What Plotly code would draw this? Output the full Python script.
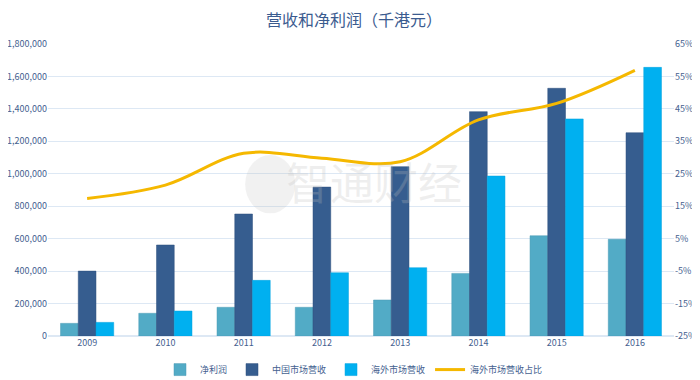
import plotly.graph_objects as go

years = ["2009", "2010", "2011", "2012", "2013", "2014", "2015", "2016"]
net_profit = [78000, 140000, 177000, 177000, 222000, 386000, 618000, 596000]
china_rev = [400000, 561000, 752000, 918000, 1044000, 1383000, 1527000, 1253000]
overseas_rev = [84000, 154000, 343000, 390000, 421000, 986000, 1338000, 1656000]
overseas_share = [17.4, 21.5, 31.3, 29.8, 28.7, 41.6, 46.7, 56.9]

left_ticks = [0, 200000, 400000, 600000, 800000, 1000000, 1200000, 1400000, 1600000, 1800000]
right_ticks = [-25, -15, -5, 5, 15, 25, 35, 45, 55, 65]
right_labels = [f"{v}%" for v in right_ticks]

font_family = "Noto Sans CJK SC, Noto Sans, sans-serif"
tick_color = "#44618f"

fig = go.Figure()
fig.add_trace(go.Bar(x=years, y=net_profit, name="净利润",
                     marker=dict(color="#52abc6", line=dict(color="#4a9ab5", width=0.5))))
fig.add_trace(go.Bar(x=years, y=china_rev, name="中国市场营收",
                     marker=dict(color="#365d8f", line=dict(color="#2c4f7c", width=0.5))))
fig.add_trace(go.Bar(x=years, y=overseas_rev, name="海外市场营收",
                     marker=dict(color="#00b0f0", line=dict(color="#00a2de", width=0.5))))
fig.add_trace(go.Scatter(x=years, y=overseas_share, name="海外市场营收占比", yaxis="y2",
                         mode="lines", line=dict(color="#f5b800", width=3, shape="spline", smoothing=1.0)))

fig.add_annotation(text="智通财经", xref="paper", yref="paper", x=0.52, y=0.53,
                   showarrow=False, font=dict(size=44, color="rgba(190,190,190,0.25)", family=font_family))
fig.add_shape(type="circle", xref="paper", yref="paper", x0=0.315, x1=0.395, y0=0.42, y1=0.62,
              line=dict(width=0), fillcolor="rgba(190,190,190,0.22)", layer="above")

fig.update_layout(
    width=692, height=372,
    margin=dict(l=40, r=26, t=36, b=44, autoexpand=False),
    paper_bgcolor="white", plot_bgcolor="white",
    font=dict(family=font_family, color=tick_color, size=9),
    title=dict(text="营收和净利润（千港元）", x=0.5, xanchor="center", y=0.968, yanchor="middle",
               yref="container", font=dict(size=16, color="#3b5b8f", family=font_family)),
    barmode="group", bargap=0.32, bargroupgap=0,
    showlegend=True,
    legend=dict(orientation="h", x=0.5, xanchor="center", xref="container", yref="container",
                y=0.028, yanchor="middle",
                font=dict(size=9, color=tick_color), itemwidth=30, traceorder="normal"),
    xaxis=dict(type="category", showgrid=False, showline=False, ticks="", automargin=False,
               tickfont=dict(size=9, color=tick_color)),
    yaxis=dict(range=[0, 1800000], tickvals=left_ticks, tickformat=",d", showgrid=True,
               gridcolor="#dde8f4", gridwidth=1, zeroline=True, zerolinecolor="#dde8f4",
               showline=False, ticks="", automargin=False, tickfont=dict(size=9, color=tick_color)),
    yaxis2=dict(range=[-25, 65], tickvals=right_ticks, ticktext=right_labels, overlaying="y", side="right",
                showgrid=False, zeroline=False, showline=False, ticks="", automargin=False,
                tickfont=dict(size=9, color=tick_color)),
)

fig.write_html("out.html")
